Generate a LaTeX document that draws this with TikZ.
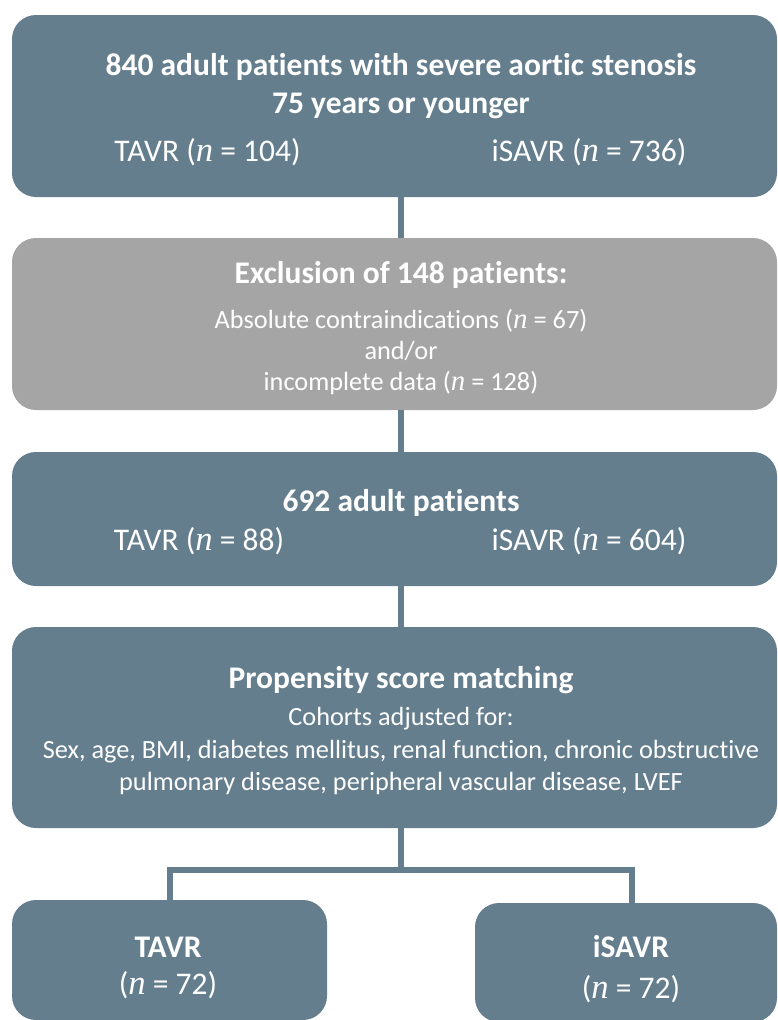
\documentclass[tikz,border=0pt]{standalone}
\usepackage{fontspec}
\setmainfont{Carlito}[Ligatures=NoCommon]
\newfontfamily\serifn{Liberation Serif}[Scale=1.1]
\newcommand{\nv}{{\serifn\itshape n}}
\definecolor{slate}{HTML}{647E8E}
\definecolor{greybox}{HTML}{A5A5A5}
\tikzset{
  box/.style={rectangle, rounded corners=24pt, fill=slate, draw=none, inner sep=0pt},
  greyb/.style={box, fill=greybox},
  conn/.style={draw=slate, line width=6.5pt},
  hd/.style={font=\bfseries\fontsize{31.5}{36}\selectfont, text=white, anchor=base, inner sep=0pt},
  big/.style={font=\fontsize{31.5}{36}\selectfont, text=white, anchor=base, inner sep=0pt},
  med/.style={font=\fontsize{26.3}{30}\selectfont, text=white, anchor=base, inner sep=0pt},
}
\begin{document}
\begin{tikzpicture}[x=1pt, y=-1pt]
\useasboundingbox (0,0) rectangle (778,1020);
\clip (0,0) rectangle (778,1020);
% boxes
\node[box, minimum width=765pt, minimum height=182pt] (b1) at (394.5,106) {};
\node[greyb, minimum width=765pt, minimum height=172pt] (b2) at (394.5,324) {};
\node[box, minimum width=765pt, minimum height=134pt] (b3) at (394.5,519) {};
\node[box, minimum width=765pt, minimum height=201pt] (b4) at (394.5,727.5) {};
\node[box, minimum width=315pt, minimum height=120pt] (b5l) at (169.5,960) {};
\node[box, minimum width=302pt, minimum height=119pt] (b5r) at (626,962.5) {};
% connector helpers
\coordinate (spine) at (401,0);
\coordinate (split) at (401,870);
\coordinate (jl) at (170,870);
\coordinate (jr) at (632,870);
% connectors
\draw[conn] (b1.south -| spine) -- (b2.north -| spine);
\draw[conn] (b2.south -| spine) -- (b3.north -| spine);
\draw[conn] (b3.south -| spine) -- (b4.north -| spine);
\draw[conn] (b4.south -| spine) -- (split);
\draw[conn] (b5l.north -| jl) -- (jl) -- (jr) -- (b5r.north -| jr);
% texts box 1
\node[hd] (t1a) at (401,75) {840 adult patients with severe aortic stenosis};
\node[hd] (t1b) at (401,113) {75 years or younger};
\node[big] (t1c) at (207.5,161) {TAVR (\nv{} = 104)};
\node[big] (t1d) at (589,161) {iSAVR (\nv{} = 736)};
% box 2
\node[hd] (t2a) at (401,283) {Exclusion of 148 patients:};
\node[med] (t2b) at (401,328) {Absolute contraindications (\nv{} = 67)};
\node[med] (t2c) at (401,359) {and/or};
\node[med] (t2d) at (401,390) {incomplete data (\nv{} = 128)};
% box 3
\node[hd] (t3a) at (401,511) {692 adult patients};
\node[big] (t3b) at (199,550) {TAVR (\nv{} = 88)};
\node[big] (t3c) at (589,550) {iSAVR (\nv{} = 604)};
% box 4
\node[hd] (t4a) at (401,688) {Propensity score matching};
\node[med] (t4b) at (401,725) {Cohorts adjusted for:};
\node[med] (t4c) at (401,758) {Sex, age, BMI, diabetes mellitus, renal function, chronic obstructive};
\node[med] (t4d) at (401,790) {pulmonary disease, peripheral vascular disease, LVEF};
% box 5
\node[hd] (t5a) at (168,957) {TAVR};
\node[big] (t5b) at (168,994) {(\nv{} = 72)};
\node[hd] (t5c) at (631,957) {iSAVR};
\node[big] (t5d) at (631,998) {(\nv{} = 72)};
\end{tikzpicture}
\end{document}
